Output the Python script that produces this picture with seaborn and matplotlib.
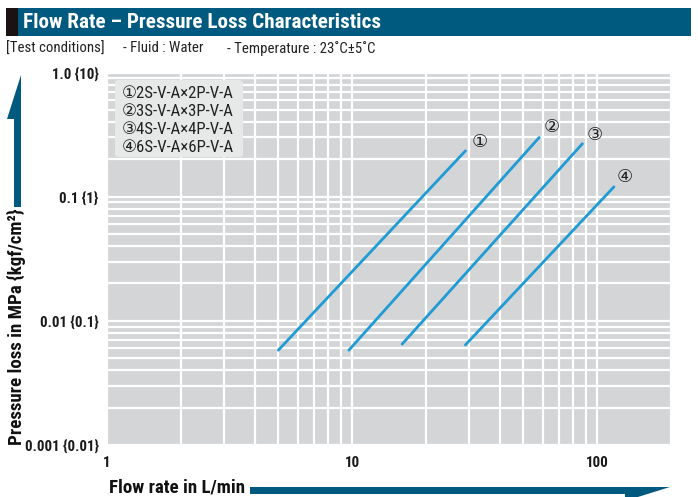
import matplotlib
matplotlib.use("Agg")
import matplotlib.pyplot as plt
from matplotlib import font_manager as fm
from matplotlib.patches import Polygon, Rectangle, FancyBboxPatch
from matplotlib.ticker import FixedLocator, NullFormatter, LogLocator
import seaborn as sns
import pandas as pd

# ---------------- data ----------------
models = ["①", "②", "③", "④"]
legend_labels = ["①2S-V-A×2P-V-A", "②3S-V-A×3P-V-A", "③4S-V-A×4P-V-A", "④6S-V-A×6P-V-A"]
flow_1 = [5.0, 29.0]
dp_1 = [0.0058, 0.234]
flow_2 = [9.7, 58.0]
dp_2 = [0.0058, 0.300]
flow_3 = [16.0, 87.0]
dp_3 = [0.0065, 0.267]
flow_4 = [29.0, 117.0]
dp_4 = [0.0064, 0.120]
label_flow = [33.0, 65.0, 98.0, 130.0]
label_dp = [0.277, 0.365, 0.315, 0.145]
x_ticks = [1, 10, 100]
x_ticklabels = ["1", "10", "100"]
y_ticks = [0.001, 0.01, 0.1, 1.0]
y_ticklabels = ["0.001 {0.01}", "0.01 {0.1}", "0.1 {1}", "1.0 {10}"]
title = "Flow Rate – Pressure Loss Characteristics"
subtitle_parts = ["[Test conditions]", "- Fluid : Water", "- Temperature : 23˚C±5˚C"]
xlabel = "Flow rate in L/min"
ylabel = "Pressure loss in MPa {kgf/cm²}"

# ---------------- style ----------------
GRAY = "#d3d5d6"
BLUE_DARK = "#005a80"
LINE_BLUE = "#1f9bd6"
sns.set_style("darkgrid", {"axes.facecolor": GRAY, "grid.color": "white"})

# pick a narrow font if one is installed
main_font, stretch = "Liberation Sans", "normal"
names = {f.name for f in fm.fontManager.ttflist}
for cand in ["Liberation Sans Narrow", "Roboto Condensed", "Open Sans Condensed",
             "Noto Sans Condensed", "DejaVu Sans Condensed", "Arial Narrow"]:
    if cand in names:
        main_font = cand
        break
else:
    for f in fm.fontManager.ttflist:
        if f.name in ("DejaVu Sans", "Noto Sans", "Open Sans", "Roboto") and \
                str(f.stretch) in ("condensed", "semi-condensed", "600", "700", "750"):
            main_font, stretch = f.name, f.stretch
            break
FAM = [main_font, "DejaVu Sans", "Noto Sans CJK JP"]
plt.rcParams["font.family"] = FAM
plt.rcParams["font.stretch"] = stretch

W, H = 698, 497
fig = plt.figure(figsize=(W / 100, H / 100), dpi=100)
fig.patch.set_facecolor("white")
renderer = fig.canvas.get_renderer()


def fx(x):
    return x / W


def fy(y):
    return 1 - y / H


def fit(t, target):
    bb = t.get_window_extent(renderer)
    length = max(bb.width, bb.height)
    t.set_fontsize(t.get_fontsize() * target / length)
    return t.get_fontsize()


ax_l, ax_r, ax_t, ax_b = 107, 671, 72.5, 445
ax = fig.add_axes([fx(ax_l), fy(ax_b), (ax_r - ax_l) / W, (ax_b - ax_t) / H])

df = pd.concat([
    pd.DataFrame({"flow": f, "dp": d, "model": m})
    for f, d, m in zip([flow_1, flow_2, flow_3, flow_4], [dp_1, dp_2, dp_3, dp_4], models)
])
sns.lineplot(data=df, x="flow", y="dp", hue="model", palette=[LINE_BLUE] * 4,
             estimator=None, linewidth=2.0, legend=False, ax=ax, zorder=3)

ax.set_xscale("log")
ax.set_yscale("log")
ax.set_xlim(1, 200)
ax.set_ylim(0.001, 1.0)
ax.xaxis.set_major_locator(FixedLocator(x_ticks))
ax.set_xticklabels(x_ticklabels)
ax.yaxis.set_major_locator(FixedLocator(y_ticks))
ax.set_yticklabels(y_ticklabels)
ax.xaxis.set_minor_locator(LogLocator(base=10, subs=range(2, 10), numticks=20))
ax.yaxis.set_minor_locator(LogLocator(base=10, subs=range(2, 10), numticks=20))
ax.xaxis.set_minor_formatter(NullFormatter())
ax.yaxis.set_minor_formatter(NullFormatter())
ax.grid(True, which="both", color="white", linewidth=1.6)
ax.set_axisbelow(True)
ax.tick_params(which="both", length=0)
ax.tick_params(axis="y", pad=6, labelsize=10)
ax.tick_params(axis="x", pad=8, labelsize=11.5)
for lab in ax.get_xticklabels() + ax.get_yticklabels():
    lab.set_fontweight("bold")
    lab.set_color("#1a1a1a")
for s in ax.spines.values():
    s.set_visible(False)
ax.set_xlabel("")
ax.set_ylabel("")

# fit tick label sizes to reference widths
fig.canvas.draw()
ylabs = ax.get_yticklabels()
ysz = fit(ylabs[-1], 47)
ax.tick_params(axis="y", labelsize=ysz)
xlabs = ax.get_xticklabels()
xsz = fit(xlabs[-1], 23)
ax.tick_params(axis="x", labelsize=xsz)

# curve labels
for m, xv, yv in zip(models, label_flow, label_dp):
    ax.text(xv, yv, m, ha="center", va="center", fontsize=13, color="#222222",
            family=["DejaVu Sans", "Noto Sans CJK JP"], zorder=4)

# legend box
box = FancyBboxPatch((fx(115), fy(157)), (243 - 115) / W, (157 - 80) / H,
                     boxstyle="round,pad=0,rounding_size=0.006", transform=fig.transFigure,
                     facecolor="#e7e8e8", edgecolor="none", zorder=5)
fig.patches.append(box)
leg_texts = []
for i, t in enumerate(legend_labels):
    leg_texts.append(fig.text(fx(122), fy(93 + 18.3 * i), t, ha="left", va="center",
                              fontsize=9.5, color="#222222", zorder=6))
lsz = fit(leg_texts[0], 112)
for t in leg_texts:
    t.set_fontsize(lsz)

# title bar
fig.patches.append(Rectangle((fx(6), fy(36)), (691 - 6) / W, 28 / H,
                             transform=fig.transFigure, facecolor=BLUE_DARK, edgecolor="none"))
fig.patches.append(Rectangle((fx(6), fy(36)), 12 / W, 28 / H,
                             transform=fig.transFigure, facecolor="#1b1311", edgecolor="none"))
tt = fig.text(fx(23), fy(22), title, ha="left", va="center", fontsize=16.5,
              fontweight="bold", color="white")
fit(tt, 357)

# subtitle
sub_texts = []
for t, xp in zip(subtitle_parts, [6, 123, 227]):
    sub_texts.append(fig.text(fx(xp), fy(48.5), t, ha="left", va="center",
                              fontsize=10.5, color="#222222"))
ssz = fit(sub_texts[0], 99)
for t in sub_texts:
    t.set_fontsize(ssz)

# y axis label and arrow
yl = fig.text(fx(16), fy(327), ylabel, ha="center", va="center", rotation=90,
              fontsize=12.5, fontweight="bold", color="#111111")
fit(yl, 235)
yarrow = [(14, 207), (21, 207), (21, 75), (7, 119), (14, 119)]
fig.patches.append(Polygon([(fx(a), fy(b)) for a, b in yarrow], closed=True,
                           transform=fig.transFigure, facecolor=BLUE_DARK, edgecolor="none"))

# x axis label and arrow
xl = fig.text(fx(109), fy(488), xlabel, ha="left", va="center",
              fontsize=12.5, fontweight="bold", color="#111111")
fit(xl, 136)
xarrow = [(250, 487), (670, 487), (625, 501), (625, 494), (250, 494)]
fig.patches.append(Polygon([(fx(a), fy(b)) for a, b in xarrow], closed=True,
                           transform=fig.transFigure, facecolor=BLUE_DARK, edgecolor="none"))

fig.savefig("out.png", dpi=100)
